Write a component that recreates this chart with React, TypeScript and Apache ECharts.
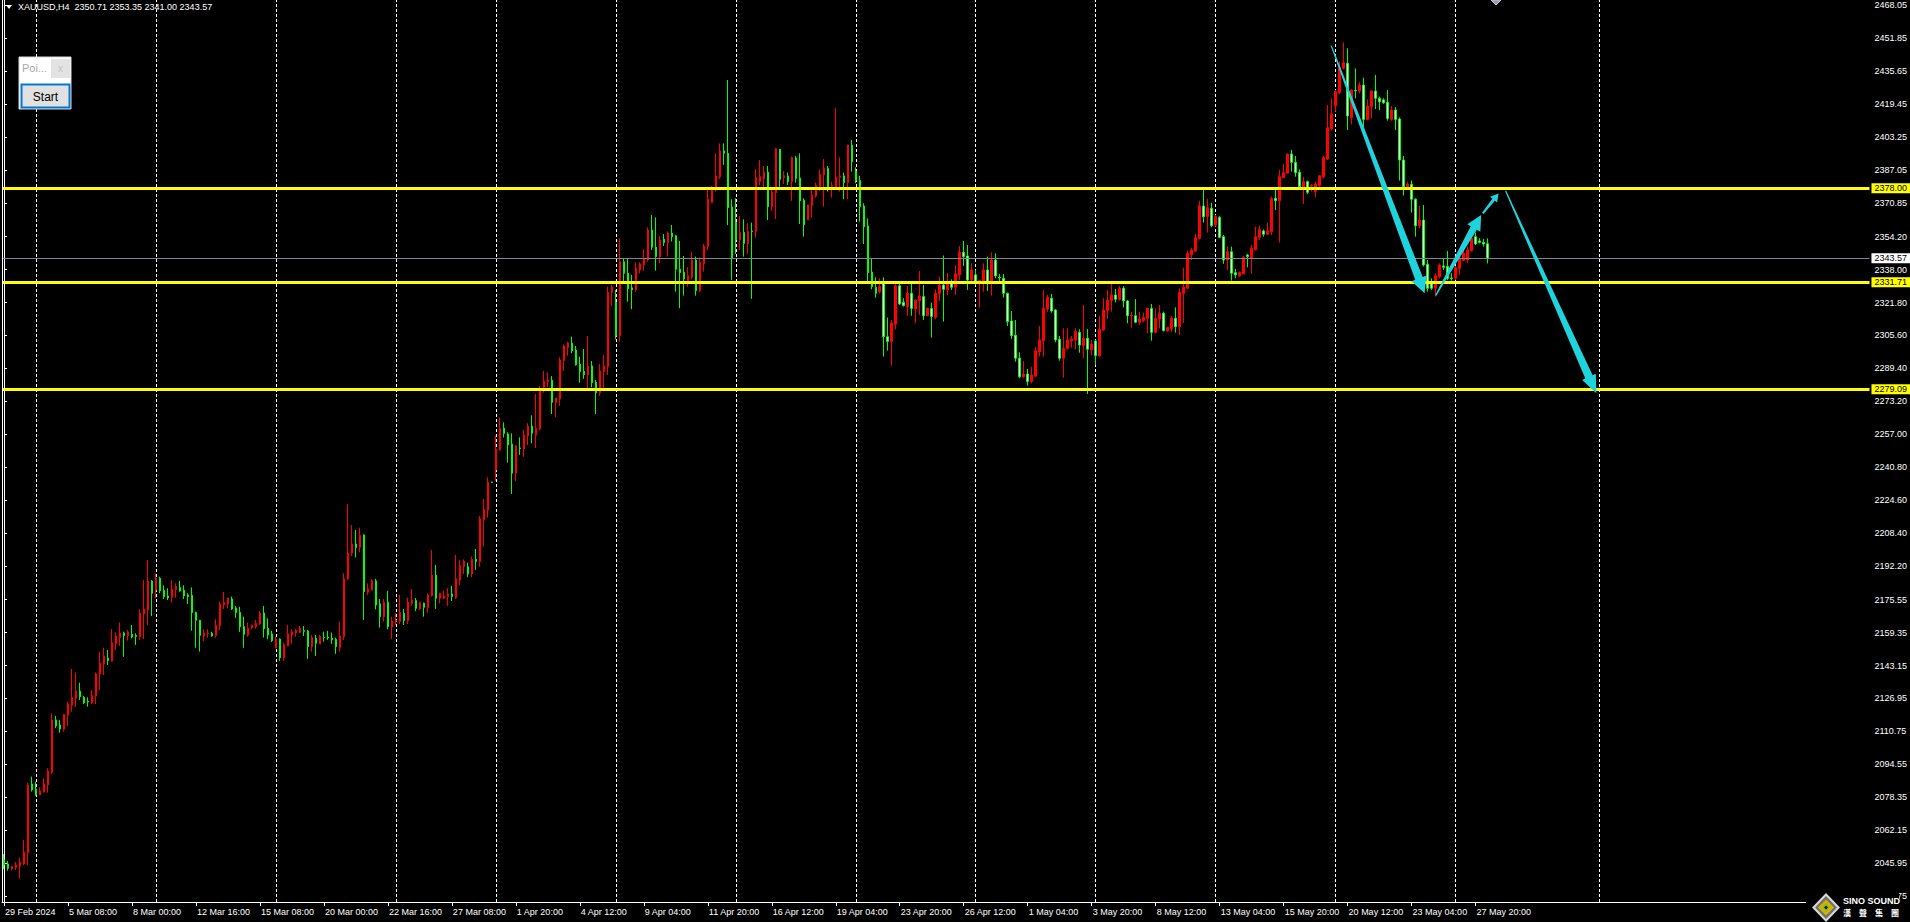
import React, { useEffect, useRef } from 'react';
import * as echarts from 'echarts';

// ---------- data ----------
const symbolTitle = 'XAUUSD,H4';
const lastOHLC = [2350.71, 2353.35, 2341.0, 2343.57];

const xLabels = [
  '29 Feb 2024', '5 Mar 08:00', '8 Mar 00:00', '12 Mar 16:00', '15 Mar 08:00', '20 Mar 00:00',
  '22 Mar 16:00', '27 Mar 08:00', '1 Apr 20:00', '4 Apr 12:00', '9 Apr 04:00', '11 Apr 20:00',
  '16 Apr 12:00', '19 Apr 04:00', '23 Apr 20:00', '26 Apr 12:00', '1 May 04:00', '3 May 20:00',
  '8 May 12:00', '13 May 04:00', '15 May 20:00', '20 May 12:00', '23 May 04:00', '27 May 20:00',
];
const labelEvery = 16;
const barSlots = 467;
const weekStartBars = [8, 38, 68, 98, 123, 153, 183, 213, 243, 273, 303, 333, 363, 399];

const yTicks = [
  2468.05, 2451.85, 2435.65, 2419.45, 2403.25, 2387.05, 2370.85, 2354.2, 2338.0, 2321.8,
  2305.6, 2289.4, 2273.2, 2257.0, 2240.8, 2224.6, 2208.4, 2192.2, 2175.55, 2159.35,
  2143.15, 2126.95, 2110.75, 2094.55, 2078.35, 2062.15, 2045.95, 2029.75,
];
const priceMin = 2026.79;
const priceMax = 2470.66;

const levelLines = [2378.0, 2331.71, 2279.09];
const currentPrice = 2343.57;

// [open, close, low, high]
const candles: number[][] = [
  [2047.5, 2045.0, 2042.9, 2050.4], [2045.5, 2043.4, 2042.2, 2047.0], [2043.2, 2044.2, 2042.2, 2044.7], [2043.7, 2045.0, 2042.6, 2046.4],
  [2044.5, 2046.5, 2038.3, 2048.6], [2045.5, 2051.4, 2045.0, 2057.3], [2051.1, 2084.4, 2045.0, 2085.5], [2084.9, 2081.9, 2081.1, 2088.5],
  [2082.4, 2079.5, 2079.1, 2086.0], [2079.5, 2081.4, 2079.5, 2083.2], [2081.1, 2084.9, 2080.6, 2087.7], [2084.4, 2091.3, 2080.6, 2092.6],
  [2090.6, 2116.4, 2089.8, 2119.6], [2116.4, 2113.4, 2112.3, 2118.3], [2113.9, 2111.9, 2110.1, 2116.4], [2111.8, 2119.1, 2110.6, 2119.1],
  [2118.8, 2124.2, 2113.4, 2125.4], [2123.7, 2127.5, 2120.4, 2141.5], [2127.0, 2130.6, 2122.9, 2139.7], [2130.6, 2127.8, 2126.2, 2134.7],
  [2127.5, 2124.9, 2124.2, 2128.2], [2125.6, 2125.2, 2122.9, 2127.5], [2124.9, 2128.5, 2124.1, 2131.1], [2128.2, 2139.0, 2124.2, 2139.7],
  [2139.0, 2144.4, 2131.1, 2149.8], [2143.9, 2147.9, 2138.5, 2151.9], [2146.9, 2145.6, 2143.4, 2150.8], [2145.4, 2154.3, 2145.1, 2161.1],
  [2153.8, 2157.7, 2150.8, 2159.5], [2157.0, 2159.2, 2152.8, 2164.4], [2159.2, 2157.9, 2147.4, 2159.8], [2157.7, 2159.7, 2155.4, 2160.6],
  [2158.5, 2157.2, 2156.5, 2163.1], [2157.9, 2157.5, 2153.3, 2159.0], [2157.4, 2168.9, 2155.7, 2170.8], [2168.5, 2170.8, 2156.2, 2185.2],
  [2170.5, 2184.7, 2163.1, 2195.1], [2184.7, 2178.7, 2167.5, 2185.2], [2180.3, 2186.1, 2176.2, 2188.5], [2186.1, 2180.0, 2178.7, 2186.9],
  [2180.2, 2177.1, 2175.9, 2182.6], [2177.4, 2176.4, 2175.4, 2181.2], [2176.7, 2180.8, 2174.1, 2185.2], [2180.5, 2182.1, 2176.5, 2183.6],
  [2181.6, 2179.8, 2179.5, 2184.8], [2180.2, 2177.5, 2175.9, 2182.6], [2177.9, 2177.1, 2173.4, 2178.7], [2177.7, 2169.2, 2160.3, 2181.6],
  [2169.3, 2165.4, 2151.9, 2169.7], [2165.4, 2158.0, 2150.0, 2165.6], [2157.7, 2159.2, 2155.2, 2161.0], [2158.9, 2159.0, 2156.9, 2161.0],
  [2159.0, 2157.7, 2157.4, 2159.8], [2157.9, 2162.9, 2156.9, 2165.9], [2162.8, 2173.4, 2160.6, 2174.6], [2172.9, 2174.1, 2171.0, 2179.4],
  [2173.4, 2176.4, 2171.3, 2176.4], [2175.9, 2171.0, 2170.5, 2177.1], [2171.5, 2169.2, 2166.6, 2172.5], [2169.3, 2162.3, 2159.7, 2172.1],
  [2162.3, 2158.5, 2151.9, 2167.2], [2158.2, 2161.5, 2157.4, 2164.3], [2161.8, 2162.9, 2161.0, 2163.4], [2162.3, 2163.9, 2161.3, 2165.6],
  [2163.6, 2169.0, 2163.1, 2170.0], [2169.0, 2161.3, 2156.9, 2172.5], [2161.5, 2158.2, 2156.1, 2166.4], [2158.7, 2155.4, 2154.7, 2160.3],
  [2151.9, 2156.2, 2151.6, 2157.4], [2156.2, 2147.0, 2145.4, 2156.5], [2147.0, 2153.4, 2145.4, 2154.4], [2152.9, 2158.7, 2152.9, 2163.1],
  [2158.2, 2159.7, 2153.9, 2161.1], [2159.2, 2160.3, 2157.4, 2161.1], [2159.5, 2161.5, 2159.0, 2162.6], [2160.3, 2160.0, 2157.7, 2162.6],
  [2160.2, 2152.5, 2146.4, 2160.7], [2152.5, 2156.9, 2150.0, 2158.2], [2156.6, 2154.1, 2147.9, 2158.2], [2153.8, 2157.4, 2153.8, 2158.2],
  [2157.2, 2156.9, 2154.9, 2159.8], [2157.1, 2156.7, 2155.8, 2160.2], [2156.7, 2155.8, 2153.8, 2159.4], [2156.1, 2152.5, 2148.9, 2156.9],
  [2152.1, 2157.7, 2150.0, 2164.8], [2157.4, 2185.8, 2155.8, 2188.5], [2185.8, 2198.4, 2185.3, 2222.7], [2198.4, 2203.0, 2197.1, 2212.3],
  [2203.0, 2201.2, 2196.3, 2209.9], [2201.3, 2207.2, 2198.9, 2211.0], [2207.4, 2179.5, 2165.6, 2207.7], [2179.2, 2180.8, 2177.9, 2183.6],
  [2180.3, 2184.9, 2180.3, 2185.8], [2184.8, 2173.0, 2170.8, 2185.8], [2173.5, 2167.2, 2161.8, 2175.9], [2167.2, 2174.3, 2164.8, 2175.8],
  [2174.3, 2162.3, 2161.0, 2179.9], [2162.3, 2165.1, 2156.2, 2167.2], [2164.9, 2165.3, 2163.1, 2168.9], [2164.8, 2169.2, 2163.5, 2177.9],
  [2168.9, 2165.3, 2163.1, 2171.0], [2165.3, 2174.3, 2163.6, 2176.6], [2173.8, 2175.4, 2172.5, 2180.8], [2175.1, 2171.3, 2170.0, 2176.4],
  [2171.0, 2174.1, 2170.5, 2174.6], [2173.8, 2171.8, 2167.2, 2174.1], [2171.7, 2177.9, 2169.2, 2178.7], [2177.6, 2187.7, 2177.1, 2200.0],
  [2187.6, 2176.3, 2171.0, 2192.6], [2176.3, 2178.7, 2173.8, 2179.0], [2176.3, 2177.4, 2175.8, 2179.9], [2177.1, 2178.4, 2172.5, 2181.2],
  [2178.4, 2177.1, 2174.9, 2182.3], [2176.6, 2185.8, 2175.9, 2197.6], [2185.3, 2192.3, 2182.8, 2195.1], [2191.8, 2194.6, 2188.2, 2195.4],
  [2191.8, 2188.2, 2186.6, 2193.8], [2188.2, 2195.4, 2186.6, 2196.8], [2195.4, 2194.3, 2190.2, 2200.5], [2194.3, 2215.3, 2191.8, 2216.8],
  [2214.8, 2220.0, 2201.7, 2225.1], [2219.7, 2233.3, 2215.9, 2235.8], [2233.5, 2233.2, 2233.0, 2233.6], [2239.4, 2249.7, 2234.0, 2256.3],
  [2249.2, 2259.9, 2249.2, 2265.3], [2259.9, 2257.4, 2255.4, 2262.8], [2257.1, 2251.7, 2243.0, 2257.9], [2252.2, 2237.8, 2227.6, 2257.4],
  [2237.8, 2251.2, 2234.0, 2251.5], [2250.2, 2249.9, 2246.8, 2255.4], [2249.7, 2256.6, 2245.9, 2259.1], [2256.1, 2261.0, 2251.7, 2262.4],
  [2261.0, 2257.4, 2252.5, 2266.3], [2256.6, 2259.9, 2250.2, 2276.8], [2259.6, 2278.4, 2258.8, 2280.7], [2280.1, 2283.2, 2277.4, 2288.1],
  [2282.7, 2283.7, 2280.1, 2287.4], [2283.5, 2272.7, 2266.9, 2285.6], [2272.5, 2274.8, 2265.3, 2274.8], [2274.3, 2293.5, 2270.9, 2294.8],
  [2293.2, 2300.4, 2288.1, 2301.1], [2299.6, 2301.9, 2295.6, 2302.5], [2301.7, 2298.1, 2296.8, 2305.0], [2298.4, 2291.2, 2290.7, 2300.4],
  [2291.4, 2287.8, 2282.4, 2295.1], [2287.9, 2286.3, 2284.2, 2298.9], [2286.1, 2290.6, 2279.6, 2305.3], [2290.6, 2282.4, 2280.1, 2293.0],
  [2282.5, 2277.4, 2266.9, 2283.7], [2277.4, 2288.1, 2275.9, 2291.5], [2287.8, 2290.6, 2279.6, 2296.0], [2290.2, 2326.8, 2286.1, 2329.6],
  [2326.7, 2329.6, 2320.1, 2330.4], [2321.9, 2305.5, 2303.7, 2328.0], [2305.5, 2341.9, 2302.6, 2353.4], [2341.8, 2336.2, 2331.3, 2343.2],
  [2336.2, 2328.6, 2322.2, 2343.2], [2329.0, 2328.0, 2318.5, 2335.4], [2328.0, 2338.6, 2327.1, 2341.6], [2337.8, 2340.8, 2336.2, 2341.6],
  [2340.3, 2343.6, 2337.5, 2348.0], [2342.7, 2357.5, 2341.9, 2358.8], [2357.5, 2349.0, 2347.6, 2364.9], [2349.0, 2344.4, 2337.5, 2363.7],
  [2344.4, 2352.6, 2341.1, 2354.5], [2352.9, 2351.3, 2349.6, 2355.5], [2351.3, 2356.0, 2344.4, 2356.7], [2355.9, 2354.2, 2351.8, 2359.9],
  [2354.6, 2338.2, 2327.1, 2355.0], [2338.2, 2336.5, 2319.0, 2352.1], [2336.7, 2333.4, 2325.2, 2344.7], [2331.6, 2335.0, 2329.6, 2339.1],
  [2334.2, 2342.7, 2333.2, 2346.7], [2342.7, 2327.6, 2325.2, 2344.4], [2327.6, 2341.6, 2327.1, 2344.0], [2340.8, 2349.6, 2337.0, 2350.6],
  [2349.3, 2372.6, 2347.6, 2377.5], [2370.9, 2377.5, 2370.9, 2379.1], [2377.5, 2384.1, 2376.4, 2395.2], [2383.7, 2396.4, 2382.6, 2400.1],
  [2396.4, 2395.2, 2389.5, 2400.1], [2395.2, 2368.5, 2359.9, 2431.3], [2368.8, 2343.6, 2332.9, 2372.6], [2361.3, 2352.6, 2345.7, 2373.1],
  [2352.6, 2356.3, 2347.6, 2364.4], [2356.3, 2350.9, 2344.4, 2362.7], [2350.6, 2356.8, 2345.7, 2360.8], [2357.0, 2356.7, 2323.6, 2361.1],
  [2356.7, 2383.2, 2353.7, 2387.5], [2381.3, 2383.7, 2379.6, 2391.9], [2382.6, 2385.9, 2377.2, 2389.0], [2385.9, 2369.0, 2362.4, 2389.0],
  [2369.0, 2376.2, 2366.8, 2378.3], [2375.9, 2397.5, 2362.9, 2397.9], [2397.2, 2382.4, 2378.8, 2397.2], [2383.2, 2384.2, 2380.1, 2386.5],
  [2384.1, 2381.3, 2379.6, 2385.7], [2381.3, 2393.1, 2371.8, 2393.6], [2392.9, 2382.9, 2380.8, 2393.9], [2383.1, 2371.9, 2360.4, 2395.2],
  [2372.1, 2360.1, 2354.2, 2373.1], [2362.4, 2369.8, 2362.4, 2369.8], [2369.5, 2374.7, 2363.6, 2377.2], [2374.2, 2379.6, 2373.4, 2380.8],
  [2378.8, 2385.0, 2376.7, 2387.3], [2384.6, 2388.0, 2369.0, 2392.4], [2387.8, 2378.8, 2376.4, 2389.0], [2379.0, 2379.3, 2373.4, 2381.3],
  [2378.8, 2383.4, 2378.8, 2417.4], [2383.4, 2384.1, 2376.4, 2393.2], [2384.1, 2380.8, 2372.6, 2385.7], [2380.8, 2399.3, 2372.6, 2399.3],
  [2399.2, 2391.1, 2386.2, 2401.8], [2386.4, 2381.8, 2380.5, 2388.3], [2381.8, 2369.0, 2361.6, 2384.1], [2369.3, 2359.1, 2350.6, 2370.6],
  [2359.4, 2336.5, 2332.1, 2363.2], [2336.8, 2329.6, 2328.3, 2343.6], [2329.3, 2326.3, 2324.2, 2334.2], [2327.1, 2329.6, 2326.3, 2333.7],
  [2331.3, 2305.0, 2295.2, 2334.2], [2305.0, 2302.6, 2298.1, 2314.4], [2302.6, 2311.6, 2290.6, 2313.2], [2311.2, 2330.0, 2308.6, 2330.9],
  [2330.0, 2321.1, 2320.6, 2330.9], [2321.9, 2320.3, 2319.8, 2323.9], [2319.8, 2326.3, 2315.3, 2329.9], [2326.3, 2318.9, 2315.3, 2331.2],
  [2318.6, 2323.0, 2311.6, 2323.4], [2322.7, 2325.0, 2315.7, 2337.3], [2324.7, 2315.3, 2313.2, 2330.4], [2315.3, 2318.9, 2315.3, 2319.3],
  [2318.9, 2314.9, 2304.5, 2321.7], [2314.5, 2326.3, 2313.7, 2328.3], [2326.3, 2330.4, 2322.7, 2334.5], [2330.4, 2328.3, 2312.4, 2344.9],
  [2328.0, 2332.1, 2325.5, 2336.2], [2332.1, 2329.3, 2328.0, 2333.2], [2329.3, 2335.9, 2325.5, 2340.3], [2335.4, 2346.5, 2332.9, 2349.6],
  [2346.5, 2344.4, 2339.8, 2352.1], [2344.7, 2332.9, 2328.0, 2350.1], [2332.9, 2337.8, 2331.2, 2341.1], [2335.4, 2332.1, 2330.4, 2337.8],
  [2332.4, 2332.7, 2319.3, 2332.9], [2332.1, 2337.8, 2327.1, 2341.1], [2337.8, 2332.1, 2327.5, 2344.4], [2332.1, 2342.7, 2325.2, 2346.5],
  [2342.7, 2334.9, 2333.7, 2346.0], [2334.2, 2333.9, 2332.1, 2335.9], [2333.7, 2326.3, 2324.2, 2335.9], [2326.3, 2312.4, 2310.3, 2326.7],
  [2312.7, 2305.5, 2303.9, 2317.6], [2305.7, 2294.4, 2292.7, 2313.2], [2294.4, 2285.3, 2284.5, 2297.3], [2285.3, 2286.6, 2284.8, 2293.0],
  [2286.6, 2282.9, 2280.9, 2289.1], [2282.9, 2286.1, 2282.0, 2290.2], [2285.6, 2298.0, 2285.0, 2299.8], [2297.5, 2303.4, 2295.2, 2310.2],
  [2303.0, 2318.9, 2295.2, 2327.9], [2318.6, 2324.4, 2317.3, 2325.5], [2323.9, 2317.6, 2316.8, 2326.0], [2318.1, 2303.4, 2302.2, 2318.6],
  [2303.7, 2294.4, 2293.2, 2305.3], [2294.4, 2299.3, 2284.8, 2309.1], [2299.3, 2303.4, 2298.5, 2309.1], [2303.0, 2303.9, 2299.6, 2305.3],
  [2303.4, 2307.5, 2298.8, 2309.1], [2307.1, 2300.9, 2297.1, 2308.6], [2300.6, 2304.2, 2294.4, 2320.6], [2304.2, 2298.8, 2276.8, 2308.8],
  [2298.5, 2301.4, 2296.0, 2303.4], [2302.9, 2295.7, 2291.1, 2303.4], [2295.5, 2308.6, 2295.2, 2315.2], [2308.3, 2318.1, 2307.8, 2323.9],
  [2317.8, 2323.0, 2313.7, 2328.0], [2322.7, 2325.5, 2317.3, 2330.9], [2325.5, 2323.4, 2321.9, 2328.5], [2323.4, 2328.8, 2322.7, 2329.9],
  [2328.8, 2322.6, 2319.4, 2329.9], [2322.6, 2315.3, 2311.6, 2323.0], [2315.2, 2315.5, 2309.4, 2317.3], [2315.3, 2312.1, 2311.6, 2323.5],
  [2312.1, 2313.7, 2310.8, 2317.3], [2312.9, 2314.4, 2312.1, 2316.8], [2314.0, 2318.9, 2306.6, 2319.3], [2318.9, 2307.1, 2303.0, 2321.1],
  [2307.1, 2314.0, 2306.6, 2318.9], [2313.7, 2316.5, 2309.1, 2320.6], [2316.5, 2308.0, 2307.5, 2317.3], [2307.8, 2309.4, 2307.5, 2309.9],
  [2308.8, 2314.0, 2307.5, 2315.3], [2314.0, 2309.9, 2307.0, 2319.4], [2309.9, 2326.7, 2305.8, 2328.8], [2326.3, 2329.3, 2311.6, 2338.9],
  [2328.8, 2346.0, 2328.5, 2347.3], [2345.2, 2347.6, 2342.7, 2348.8], [2347.2, 2353.7, 2346.8, 2355.5], [2353.4, 2369.3, 2352.9, 2371.9],
  [2369.3, 2364.0, 2361.1, 2377.2], [2364.1, 2368.5, 2356.2, 2372.8], [2368.2, 2359.6, 2358.8, 2370.9], [2360.0, 2364.1, 2359.1, 2364.9],
  [2363.7, 2353.9, 2353.4, 2364.4], [2354.2, 2342.7, 2340.8, 2355.0], [2342.7, 2346.8, 2337.8, 2349.6], [2346.8, 2336.2, 2332.6, 2349.3],
  [2336.5, 2335.4, 2333.7, 2338.3], [2334.9, 2336.5, 2334.5, 2337.0], [2335.9, 2343.9, 2335.9, 2344.7], [2345.2, 2344.4, 2339.1, 2345.7],
  [2343.6, 2348.5, 2335.9, 2350.1], [2347.7, 2354.2, 2347.7, 2359.1], [2353.9, 2357.8, 2352.6, 2359.6], [2357.0, 2355.4, 2354.2, 2357.8],
  [2355.4, 2357.0, 2355.0, 2361.1], [2356.7, 2372.8, 2355.0, 2373.9], [2373.1, 2371.9, 2367.3, 2377.2], [2371.9, 2383.7, 2351.3, 2387.0],
  [2383.2, 2385.7, 2383.2, 2390.0], [2385.4, 2394.9, 2385.4, 2394.9], [2394.9, 2390.8, 2386.2, 2396.9], [2390.8, 2385.7, 2383.7, 2393.9],
  [2385.9, 2378.8, 2377.2, 2387.3], [2378.8, 2381.3, 2370.3, 2383.7], [2381.3, 2376.0, 2375.2, 2381.8], [2379.1, 2379.5, 2376.4, 2380.1],
  [2376.4, 2380.1, 2373.6, 2381.3], [2379.3, 2384.2, 2378.8, 2384.2], [2383.7, 2393.1, 2382.9, 2393.9], [2392.4, 2407.8, 2391.9, 2419.0],
  [2407.2, 2414.6, 2406.4, 2422.3], [2418.5, 2425.6, 2415.7, 2426.4], [2425.1, 2437.4, 2424.4, 2440.3], [2437.0, 2439.8, 2436.5, 2449.8],
  [2439.5, 2413.6, 2406.7, 2446.9], [2412.8, 2426.4, 2409.5, 2426.7], [2426.2, 2425.9, 2422.3, 2437.0], [2425.9, 2428.8, 2424.7, 2430.2],
  [2428.8, 2411.9, 2408.3, 2432.4], [2411.9, 2418.5, 2411.6, 2421.8], [2418.2, 2425.9, 2412.4, 2426.1], [2425.9, 2422.3, 2417.0, 2433.8],
  [2422.3, 2420.6, 2416.5, 2423.1], [2421.5, 2420.1, 2419.5, 2422.3], [2420.3, 2412.4, 2411.3, 2426.4], [2411.9, 2416.5, 2411.3, 2418.5],
  [2416.5, 2411.9, 2406.7, 2417.9], [2412.1, 2391.9, 2381.8, 2412.9], [2391.9, 2378.8, 2374.4, 2393.9], [2378.8, 2380.1, 2378.0, 2381.3],
  [2380.0, 2372.6, 2366.0, 2381.8], [2372.6, 2359.6, 2354.2, 2373.1], [2359.6, 2362.4, 2358.3, 2369.5], [2362.4, 2340.3, 2339.5, 2369.8],
  [2340.6, 2328.8, 2327.2, 2342.7], [2331.3, 2328.8, 2328.0, 2333.7], [2328.8, 2334.9, 2324.7, 2336.2], [2334.5, 2340.3, 2333.7, 2341.1],
  [2339.8, 2339.1, 2337.8, 2343.6], [2339.5, 2333.7, 2332.9, 2347.2], [2333.9, 2333.6, 2332.6, 2336.2], [2333.7, 2339.1, 2332.9, 2339.8],
  [2338.6, 2343.6, 2335.4, 2344.4], [2342.4, 2346.0, 2342.2, 2348.0], [2342.7, 2347.7, 2341.4, 2349.3], [2347.3, 2353.4, 2346.8, 2354.2],
  [2354.2, 2350.6, 2350.1, 2356.2], [2352.1, 2351.4, 2350.9, 2353.4], [2351.4, 2350.6, 2349.3, 2353.1], [2350.71, 2343.57, 2341.0, 2353.35],
];

// arrows: [fromBar, fromPrice, toBar, toPrice]
const arrowLines = [
  [331.9, 2448.2, 355.25, 2326.3],
  [358.0, 2325.2, 369.4, 2364.9],
  [369.8, 2365.7, 373.75, 2375.5],
  [375.5, 2376.8, 398.2, 2277.1],
];

// ---------- styles ----------
const FONT = '"Liberation Sans", Arial, "DejaVu Sans", sans-serif';
const BULL = '#ff0000';
const BEAR_FILL = '#ffffff';
const BEAR_LINE = '#00ff00';
const LEVEL_COLOR = '#ffff00';
const ARROW_COLOR = '#1fd3dc';
const arrowShapes = [
  { w0: 0.6, w1: 4, hl: 16, hw: 8 },
  { w0: 0.6, w1: 3.5, hl: 15, hw: 7.5 },
  { w0: 1, w1: 1.6, hl: 8, hw: 4.5 },
  { w0: 0.6, w1: 4, hl: 18, hw: 7.5 },
];

const GRID = { left: 2, right: 40, top: 0, bottom: 20 };

function renderArrow(params: any, api: any) {
  const a = api.coord([api.value(0), api.value(1)]);
  const b = api.coord([api.value(2), api.value(3)]);
  const s = arrowShapes[params.dataIndex];
  const dx = b[0] - a[0];
  const dy = b[1] - a[1];
  const len = Math.hypot(dx, dy) || 1;
  const ux = dx / len;
  const uy = dy / len;
  const nx = -uy;
  const ny = ux;
  const bx = b[0] - ux * s.hl;
  const by = b[1] - uy * s.hl;
  const pts = [
    [a[0] + nx * s.w0, a[1] + ny * s.w0],
    [bx + nx * s.w1, by + ny * s.w1],
    [bx + nx * s.hw, by + ny * s.hw],
    [b[0], b[1]],
    [bx - nx * s.hw, by - ny * s.hw],
    [bx - nx * s.w1, by - ny * s.w1],
    [a[0] - nx * s.w0, a[1] - ny * s.w0],
  ];
  return { type: 'polygon', shape: { points: pts }, style: { fill: ARROW_COLOR } };
}

function buildOption() {
  const categories = Array.from({ length: barSlots }, (_, i) => String(i));
  const showLabel = (index: number) => index % labelEvery === 0 && index / labelEvery < xLabels.length;
  const headerText = `${symbolTitle}  ${lastOHLC.map((v) => v.toFixed(2)).join(' ')}`;
  const logoChars = '漢聲集團'.split('');

  const levelMarks = levelLines.map((v) => ({
    yAxis: v,
    lineStyle: { color: LEVEL_COLOR, width: 3, type: 'solid' },
    label: {
      show: true,
      position: 'end',
      distance: 2,
      formatter: v.toFixed(2),
      color: '#000',
      backgroundColor: LEVEL_COLOR,
      fontSize: 9,
      fontFamily: FONT,
      padding: [1, 3, 0, 3],
    },
  }));

  return {
    animation: false,
    backgroundColor: '#000000',
    grid: { ...GRID, containLabel: false },
    xAxis: [
      {
        type: 'category',
        data: categories,
        boundaryGap: true,
        axisLine: { show: true, lineStyle: { color: '#ffffff', width: 1 } },
        axisTick: {
          show: true,
          alignWithLabel: true,
          interval: (index: number) => showLabel(index),
          length: 4,
          lineStyle: { color: '#ffffff' },
        },
        axisLabel: {
          interval: (index: number) => showLabel(index),
          formatter: (_v: string, index: number) => xLabels[index / labelEvery] ?? '',
          color: '#ffffff',
          fontSize: 9,
          fontFamily: FONT,
          align: 'left',
          margin: 5,
          padding: [0, 0, 0, 1],
        },
        splitLine: { show: false },
      },
      {
        type: 'value',
        min: -0.5,
        max: barSlots - 0.5,
        show: false,
      },
    ],
    yAxis: {
      type: 'value',
      position: 'right',
      min: priceMin,
      max: priceMax,
      axisLine: { show: true, lineStyle: { color: '#ffffff', width: 1 } },
      axisTick: { show: true, length: 3, customValues: yTicks, lineStyle: { color: '#ffffff' } },
      axisLabel: {
        customValues: yTicks,
        formatter: (v: number) => v.toFixed(2),
        color: '#ffffff',
        fontSize: 9,
        fontFamily: FONT,
        margin: 5,
        showMinLabel: true,
        showMaxLabel: true,
      },
      splitLine: { show: false },
    },
    series: [
      {
        type: 'line',
        xAxisIndex: 1,
        data: [],
        z: 1,
        silent: true,
        markLine: {
          silent: true,
          z: 1,
          symbol: ['none', 'none'],
          label: { show: false },
          lineStyle: { color: '#ffffff', width: 1, type: [3, 2] },
          data: weekStartBars.map((b) => ({ xAxis: b })),
        },
      },
      {
        type: 'candlestick',
        xAxisIndex: 0,
        data: candles,
        barWidth: 2,
        z: 2,
        itemStyle: {
          color: BULL,
          color0: BEAR_FILL,
          borderColor: BULL,
          borderColor0: BEAR_LINE,
          borderWidth: 1,
        },
        markLine: {
          silent: true,
          symbol: ['none', 'none'],
          z: 5,
          data: [
            {
              yAxis: currentPrice,
              lineStyle: { color: '#778899', width: 1, type: 'solid' },
              label: {
                show: true,
                position: 'end',
                distance: 2,
                formatter: currentPrice.toFixed(2),
                color: '#000',
                backgroundColor: '#ffffff',
                fontSize: 9,
                fontFamily: FONT,
                padding: [1, 3, 0, 3],
              },
            },
            ...levelMarks,
          ],
        },
      },
      {
        type: 'custom',
        xAxisIndex: 1,
        yAxisIndex: 0,
        z: 6,
        clip: false,
        silent: true,
        encode: { x: [0, 2], y: [1, 3] },
        data: arrowLines,
        renderItem: renderArrow,
      },
    ],
    graphic: [
      // left border
      { type: 'line', z: 10, shape: { x1: 2.5, y1: 0, x2: 2.5, y2: 902 }, style: { stroke: '#ffffff', lineWidth: 1 } },
      // header
      { type: 'polygon', z: 10, shape: { points: [[6, 5], [12, 5], [9, 9]] }, style: { fill: '#ffffff' } },
      {
        type: 'text', z: 10, x: 18, y: 7,
        style: { text: headerText, fill: '#ffffff', font: `9px ${FONT}`, verticalAlign: 'middle' },
      },
      // top marker
      { type: 'polygon', z: 10, shape: { points: [[1491, 0], [1501, 0], [1496, 5]] }, style: { fill: '#9a9aa8', stroke: '#c8c8d0', lineWidth: 1 } },
      // panel
      { type: 'rect', z: 20, shape: { x: 19, y: 57, width: 52, height: 52 }, style: { fill: '#ffffff', stroke: '#d8d8d8', lineWidth: 1 } },
      {
        type: 'text', z: 21, x: 22, y: 68,
        style: { text: 'Poi...', fill: '#a8a8a8', font: `11px ${FONT}`, verticalAlign: 'middle' },
      },
      { type: 'rect', z: 21, shape: { x: 51, y: 59, width: 19, height: 19 }, style: { fill: '#e3e3e3' } },
      {
        type: 'text', z: 22, x: 60.5, y: 68,
        style: { text: 'x', fill: '#c4c4c4', font: `10px ${FONT}`, align: 'center', verticalAlign: 'middle' },
      },
      { type: 'rect', z: 21, shape: { x: 21.5, y: 84.5, width: 48, height: 23 }, style: { fill: '#e1e1e1', stroke: '#0078d7', lineWidth: 2 } },
      {
        type: 'text', z: 22, x: 45.5, y: 96.5,
        style: { text: 'Start', fill: '#000000', font: `12px ${FONT}`, align: 'center', verticalAlign: 'middle' },
      },
      // logo
      { type: 'rect', z: 29, shape: { x: 1806, y: 891, width: 93, height: 31 }, style: { fill: '#000000' } },
      { type: 'polygon', z: 30, shape: { points: [[1826, 893], [1840, 907.5], [1826, 922], [1812, 907.5]] }, style: { fill: '#d8d8d8' } },
      { type: 'polygon', z: 31, shape: { points: [[1826, 896], [1837, 907.5], [1826, 919], [1815, 907.5]] }, style: { fill: '#707070' } },
      { type: 'polygon', z: 32, shape: { points: [[1826, 899.5], [1834, 907.5], [1826, 915.5], [1818, 907.5]] }, style: { fill: '#d6b100' } },
      { type: 'polygon', z: 33, shape: { points: [[1826, 903], [1830.5, 907.5], [1826, 912], [1821.5, 907.5]] }, style: { fill: '#8fbf1f' } },
      { type: 'polygon', z: 34, shape: { points: [[1826, 905.5], [1828, 907.5], [1826, 909.5], [1824, 907.5]] }, style: { fill: '#1a1a1a' } },
      {
        type: 'text', z: 30, x: 1843, y: 901,
        style: { text: 'SINO SOUND', fill: '#ffffff', font: `bold 9px ${FONT}`, verticalAlign: 'middle' },
      },
      ...logoChars.map((ch, i) => ({
        type: 'text', z: 30, x: 1843 + i * 16, y: 912,
        style: { text: ch, fill: '#ffffff', font: `bold 8px "Noto Sans CJK TC", sans-serif`, verticalAlign: 'middle' },
      })),
    ],
  };
}

export default function App() {
  const ref = useRef<HTMLDivElement>(null);
  useEffect(() => {
    if (!ref.current) return;
    const chart = echarts.init(ref.current, null, { renderer: 'svg' });
    chart.setOption(buildOption() as any);
    return () => chart.dispose();
  }, []);
  return (
    <div
      ref={ref}
      style={{ position: 'fixed', left: 0, top: 0, width: 1910, height: 922, background: '#000' }}
    />
  );
}
